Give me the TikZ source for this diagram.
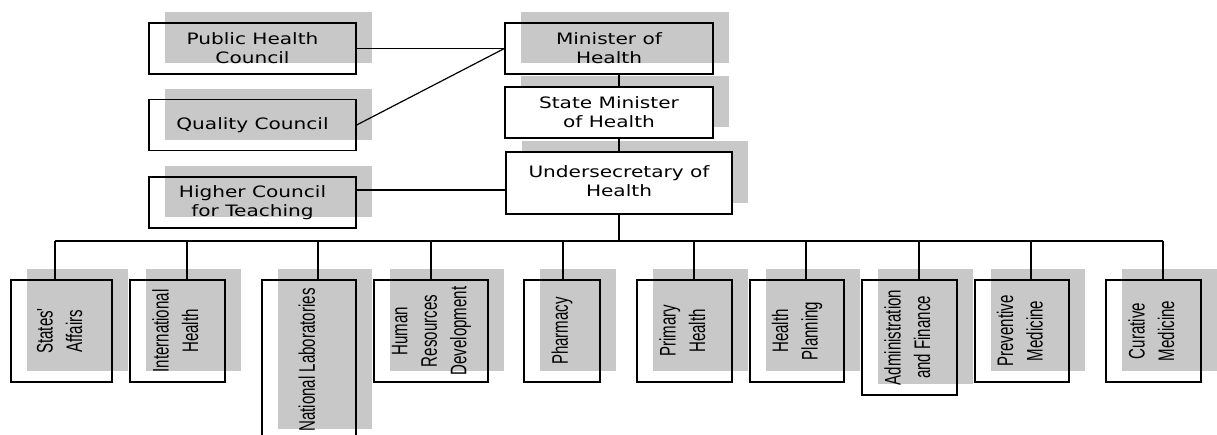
\documentclass[tikz,border=0pt]{standalone}
\usepackage{fontspec}
\usepackage{graphicx}
\usetikzlibrary{shadows}

\newfontfamily\topfont[FakeStretch=1.28]{DejaVu Sans}
\newfontfamily\sidefont[FakeStretch=0.67]{Liberation Sans}
\definecolor{shadowgray}{RGB}{200,200,200}
\newcommand{\sidetext}[1]{\rotatebox{90}{\begin{tabular}{@{}c@{}}#1\end{tabular}}}

\begin{document}
\begin{tikzpicture}[x=1pt, y=-1pt,
      topbox/.style={rectangle, draw=black, line width=1.3pt, inner sep=0pt,
        minimum width=207pt, minimum height=51pt, align=center,
        font=\topfont\fontsize{15.7}{19}\selectfont,
        drop shadow={shadow xshift=15.5pt, shadow yshift=11pt, fill=shadowgray, opacity=1}},
      sidebox/.style={rectangle, draw=black, line width=1.3pt, inner sep=0pt,
        minimum height=102pt, font=\sidefont\fontsize{22.5}{29.5}\selectfont,
        drop shadow={shadow xshift=15.5pt, shadow yshift=11pt, fill=shadowgray, opacity=1}},
      link/.style={line width=1.2pt}]

    \useasboundingbox (0,0) rectangle (1217,434);
    \clip (0,0) rectangle (1217,434);

    % councils on the left
    \node[topbox] (phc) at (252.5,48.5) {Public Health\\Council};
    \node[topbox] (qc)  at (252.5,125)  {Quality Council};
    \node[topbox] (hct) at (252.5,202.5) {Higher Council\\for Teaching};

    % ministry chain
    \node[topbox, minimum width=208pt] (min) at (609,48.5) {Minister of\\Health};
    \node[topbox, minimum width=208pt, fill=white] (smin) at (609,112.5) {State Minister\\of Health};
    \node[topbox, minimum width=226pt, minimum height=62pt, fill=white] (usec) at (619,183)
      {\raisebox{5pt}{\begin{tabular}{@{}c@{}}Undersecretary of\\Health\end{tabular}}};

    % departments
    \node[sidebox, minimum width=101pt] (sa)  at (61.5,331)  {\sidetext{States'\\Affairs}};
    \node[sidebox, minimum width=95pt]  (ih)  at (177.5,331) {\sidetext{International\\Health}};
    \node[sidebox, minimum width=94pt, minimum height=160pt] (nl) at (309,360) {\sidetext{National Laboratories\\ }};
    \node[sidebox, minimum width=114pt] (hr)  at (431,331)   {\sidetext{Human\\Resources\\Development}};
    \node[sidebox, minimum width=76pt]  (ph)  at (562,331)   {\sidetext{Pharmacy}};
    \node[sidebox, minimum width=95pt]  (prh) at (684.5,331) {\sidetext{Primary\\Health}};
    \node[sidebox, minimum width=94pt]  (hp)  at (797,331)   {\sidetext{Health\\Planning}};
    \node[sidebox, minimum width=95pt, minimum height=115pt] (af) at (909.5,337.5) {\sidetext{Administration\\and Finance}};
    \node[sidebox, minimum width=94pt]  (pm)  at (1022,331)  {\sidetext{Preventive\\Medicine}};
    \node[sidebox, minimum width=95pt]  (cm)  at (1153.5,331) {\sidetext{Curative\\Medicine}};

    \draw[link] (phc.east) -- (min.west);
    \draw[link] (qc.east) -- (min.west);
    \draw[link] ([yshift=12.5pt]hct.east) -- ([yshift=12.5pt]hct.east -| usec.west);

    \draw[link] (min.south -| usec.north) -- (smin.north -| usec.north);
    \draw[link] (smin.south -| usec.north) -- (usec.north);

    \coordinate (busL) at (55,241);
    \coordinate (busR) at (1163,241);
    \draw[link] (busL) -- (busR);
    \draw[link] (usec.south) -- (usec.south |- busL);

    \foreach \b/\d in {sa/-6.5, ih/9.5, nl/9, hr/0, ph/1, prh/9.5, hp/9, af/9.5, pm/9, cm/9.5}
      \draw[link] ([xshift=\d pt]\b.north) -- ([xshift=\d pt]\b.north |- busL);

  \end{tikzpicture}
\end{document}
